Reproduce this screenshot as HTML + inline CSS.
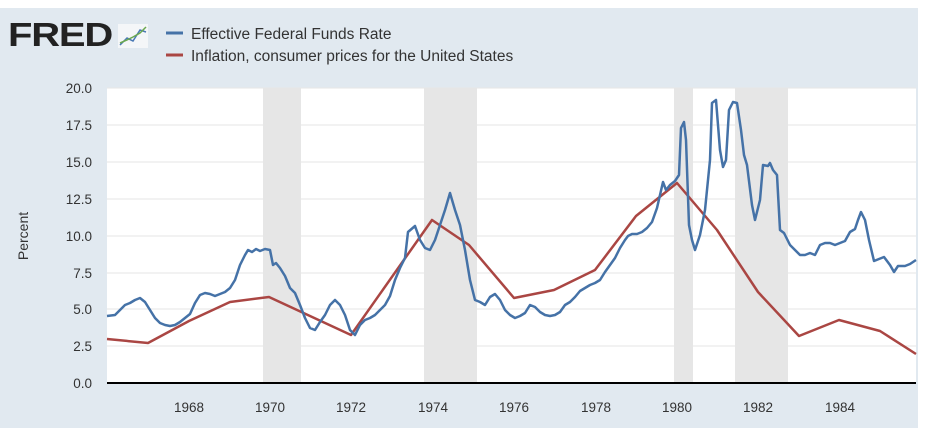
<!DOCTYPE html>
<html><head><meta charset="utf-8"><style>
body{margin:0;background:#fff}
svg{display:block;font-family:"Liberation Sans",sans-serif}
</style></head><body>
<svg width="933" height="436" viewBox="0 0 933 436">
<rect x="0" y="0" width="933" height="436" fill="#fff"/>
<rect x="0" y="8" width="918" height="420" fill="#e1e9f0"/>
<text x="8" y="46" font-size="33" font-weight="bold" fill="#222" letter-spacing="-1" textLength="104" lengthAdjust="spacingAndGlyphs">FRED</text>
<rect x="118" y="24" width="30" height="24" fill="#f4f6f8"/>
<g fill="none" stroke-width="1.5"><path d="M120 45 L127 38 L133 41 L140 30 L146 32" stroke="#4a79b5"/><path d="M120 43 L127 40 L133 37 L140 33 L146 27" stroke="#6aa84f"/></g>
<line x1="166" y1="33" x2="183" y2="33" stroke="#4572a7" stroke-width="3"/>
<text x="191" y="39" font-size="15.5" fill="#333">Effective Federal Funds Rate</text>
<line x1="166" y1="55" x2="183" y2="55" stroke="#aa4643" stroke-width="3"/>
<text x="191" y="61" font-size="15.5" fill="#333">Inflation, consumer prices for the United States</text>
<rect x="107" y="88" width="809" height="295" fill="#fff"/>
<g fill="#e6e6e6"><rect x="263" y="88" width="38" height="295"/><rect x="424" y="88" width="53" height="295"/><rect x="674" y="88" width="19" height="295"/><rect x="735" y="88" width="53" height="295"/></g>
<g stroke="#e6e6e6" stroke-width="1"><line x1="107" y1="88" x2="916" y2="88"/><line x1="107" y1="125" x2="916" y2="125"/><line x1="107" y1="162" x2="916" y2="162"/><line x1="107" y1="199" x2="916" y2="199"/><line x1="107" y1="236" x2="916" y2="236"/><line x1="107" y1="273" x2="916" y2="273"/><line x1="107" y1="309" x2="916" y2="309"/><line x1="107" y1="346" x2="916" y2="346"/></g>
<line x1="107" y1="383" x2="916" y2="383" stroke="#000" stroke-width="2"/>
<g font-size="13.5" fill="#333" text-anchor="end"><text x="92" y="93">20.0</text><text x="92" y="130">17.5</text><text x="92" y="167">15.0</text><text x="92" y="204">12.5</text><text x="92" y="241">10.0</text><text x="92" y="278">7.5</text><text x="92" y="314">5.0</text><text x="92" y="351">2.5</text><text x="92" y="388">0.0</text></g>
<g font-size="13.5" fill="#333" text-anchor="middle"><text x="189" y="412">1968</text><text x="270" y="412">1970</text><text x="351" y="412">1972</text><text x="433" y="412">1974</text><text x="514" y="412">1976</text><text x="596" y="412">1978</text><text x="677" y="412">1980</text><text x="758" y="412">1982</text><text x="840" y="412">1984</text></g>
<text x="28" y="236" font-size="14" fill="#333" text-anchor="middle" transform="rotate(-90 28 236)">Percent</text>
<polyline fill="none" stroke="#aa4643" stroke-width="2.5" stroke-linejoin="round" points="107,339 148,343 189,321 230,302 269,297 351,335 432,220 469,245 514,298 554,290 595,270 636,216 677,183 717,230 758,292 799,336 839,320 880,331 916,354"/>
<polyline fill="none" stroke="#4572a7" stroke-width="2.5" stroke-linejoin="round" points="107,316 115,315 120,310 125,305 130,303 135,300 140,298 145,302 150,310 155,318 160,323 165,325 170,326 175,325 180,322 185,318 190,314 195,303 200,295 205,293 210,294 215,296 220,294 225,292 230,288 235,280 240,265 245,255 248,250 252,252 256,249 260,251 265,249 270,250 273,265 276,263 280,268 285,276 290,288 295,293 300,305 305,318 310,328 315,330 320,322 325,315 330,305 335,300 340,305 345,315 350,330 355,335 360,325 365,320 370,318 375,315 380,310 385,305 390,296 395,280 400,268 405,258 408,232 415,226 420,240 425,248 430,250 435,240 440,225 445,210 450,193 455,210 460,225 465,250 470,280 475,300 480,302 485,305 490,297 495,294 500,300 505,310 510,315 515,318 520,316 525,313 530,305 535,307 540,312 545,315 550,316 555,315 560,312 565,305 570,302 575,297 580,291 585,288 590,285 595,283 600,280 605,272 610,265 615,258 620,248 625,240 628,236 632,234 637,234 642,232 647,228 652,222 657,208 663,182 666,190 670,185 675,181 679,175 681,128 684,122 686,140 689,225 692,240 695,250 700,235 705,210 710,160 712,103 716,100 720,150 723,167 726,160 729,110 733,102 737,103 741,130 744,155 747,165 752,205 755,220 760,200 763,165 768,166 770,163 773,170 777,175 780,230 784,233 790,245 800,255 805,255 810,253 815,255 820,245 825,243 830,243 835,245 840,243 845,241 850,232 855,229 858,220 861,212 865,220 869,240 874,261 884,257 890,265 894,272 898,266 905,266 910,264 916,260"/>
</svg>
</body></html>
